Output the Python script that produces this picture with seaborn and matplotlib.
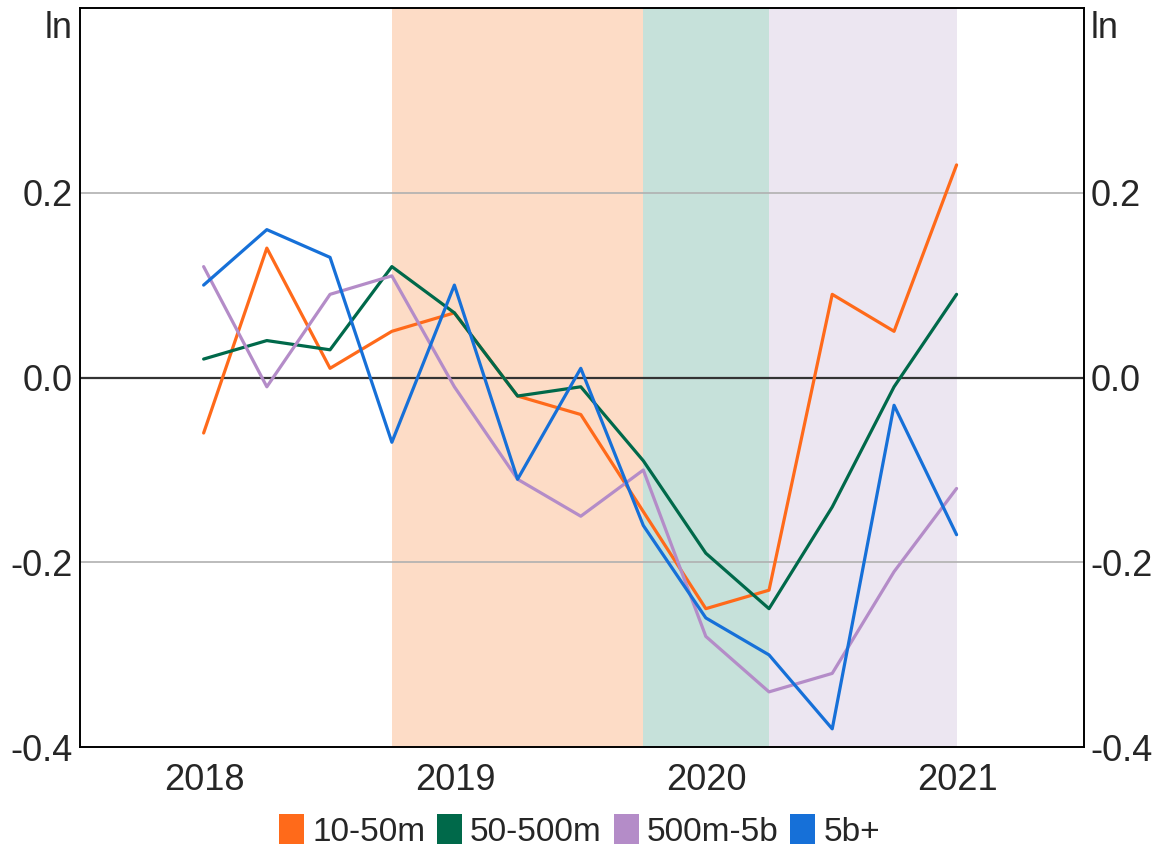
import matplotlib
matplotlib.use("Agg")
import matplotlib.pyplot as plt
import matplotlib.dates as mdates
from matplotlib.patches import Patch
import numpy as np
import pandas as pd
import seaborn as sns

# quarterly observations, Jun 2018 - Jun 2021
quarters = pd.date_range("2018-06-30", periods=13, freq="QE")

s_10_50m = [-0.06, 0.14, 0.01, 0.05, 0.07, -0.02, -0.04, -0.145, -0.25, -0.23, 0.09, 0.05, 0.23]
s_50_500m = [0.02, 0.04, 0.03, 0.12, 0.07, -0.02, -0.01, -0.09, -0.19, -0.25, -0.14, -0.01, 0.09]
s_500m_5b = [0.12, -0.01, 0.09, 0.11, -0.01, -0.11, -0.15, -0.10, -0.28, -0.34, -0.32, -0.21, -0.12]
s_5b = [0.10, 0.16, 0.13, -0.07, 0.10, -0.11, 0.01, -0.16, -0.26, -0.30, -0.38, -0.03, -0.17]

labels = ["10-50m", "50-500m", "500m-5b", "5b+"]
colors = ["#FF6A1A", "#00694A", "#B48CC8", "#1670D8"]

# shaded periods
periods = [("2019-03-31", "2020-03-31", "#FDDCC6"),
           ("2020-03-31", "2020-09-30", "#C6E1DA"),
           ("2020-09-30", "2021-06-30", "#ECE6F1")]

df = pd.DataFrame({
    "date": np.tile(quarters, 4),
    "value": s_10_50m + s_50_500m + s_500m_5b + s_5b,
    "size": np.repeat(labels, len(quarters)),
})

sns.set_style("white")
plt.rcParams["font.family"] = ["Liberation Sans", "DejaVu Sans"]

fig = plt.figure(figsize=(11.59, 8.61), dpi=100)
ax = fig.add_axes([0.069, 0.132, 0.866, 0.859])

for start, end, c in periods:
    ax.axvspan(pd.Timestamp(start), pd.Timestamp(end), color=c, lw=0, zorder=0)

for yv in [0.2, -0.2]:
    ax.axhline(yv, color="#B0B0B0", lw=1.2, zorder=1)
ax.axhline(0, color="#333333", lw=1.6, zorder=1)

sns.lineplot(data=df, x="date", y="value", hue="size", palette=colors,
             linewidth=2.3, legend=False, ax=ax, zorder=3)

ax.set_xlim(pd.Timestamp("2018-01-01"), pd.Timestamp("2022-01-01"))
ax.set_ylim(-0.4, 0.4)
ax.set_xlabel("")
ax.set_ylabel("")

# year boundaries as ticks, labels mid-year
ax.xaxis.set_major_locator(mdates.YearLocator())
ax.xaxis.set_major_formatter(plt.NullFormatter())
ax.xaxis.set_minor_locator(mdates.MonthLocator(bymonth=7))
ax.xaxis.set_minor_formatter(mdates.DateFormatter("%Y"))
ax.tick_params(axis="x", which="major", direction="in", length=15, width=1.2, color="black")
ax.tick_params(axis="x", which="minor", length=0, labelsize=26, pad=11)

yt = [-0.4, -0.2, 0.0, 0.2]
ylab = ["-0.4", "-0.2", "0.0", "0.2"]
ax.set_yticks(yt)
ax.set_yticklabels(ylab)
ax.tick_params(axis="y", length=0, labelsize=26, pad=5)

ax2 = ax.twinx()
ax2.set_ylim(-0.4, 0.4)
ax2.set_yticks(yt)
ax2.set_yticklabels(ylab)
ax2.tick_params(axis="y", length=0, labelsize=26, pad=5)

# unit labels
ax.annotate("ln", xy=(0, 1), xycoords="axes fraction", xytext=(-5, -2),
            textcoords="offset points", ha="right", va="top", fontsize=26)
ax.annotate("ln", xy=(1, 1), xycoords="axes fraction", xytext=(5, -2),
            textcoords="offset points", ha="left", va="top", fontsize=26)

for a in (ax, ax2):
    for sp in a.spines.values():
        sp.set_color("black")
        sp.set_linewidth(1.2)

handles = [Patch(facecolor=c, edgecolor="none") for c in colors]
fig.legend(handles, labels, loc="center", bbox_to_anchor=(0.5, 0.035), ncol=4,
           frameon=False, fontsize=24, handlelength=0.75, handleheight=1.0,
           handletextpad=0.25, columnspacing=0.35)

fig.savefig("out.png", dpi=100)
